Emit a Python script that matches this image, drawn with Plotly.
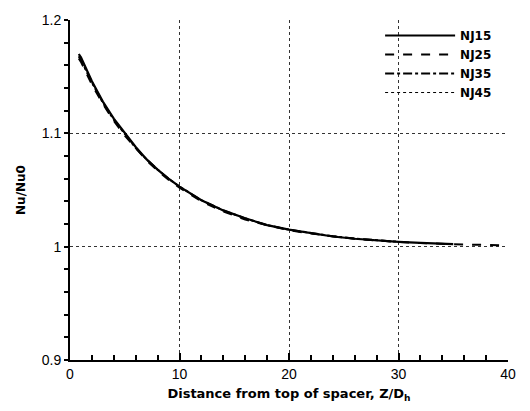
import plotly.graph_objects as go

# Distance from top of spacer, Z/Dh
z15 = [0.8, 1, 2, 3, 4, 5, 6, 7, 8, 9, 10, 12, 14, 16, 18, 20, 22, 24, 26, 28, 30, 32, 35]
nj15 = [1.170, 1.167, 1.146, 1.128, 1.113, 1.100, 1.088, 1.077, 1.068, 1.060, 1.053, 1.041, 1.032, 1.025, 1.019, 1.015, 1.012, 1.009, 1.007, 1.0055, 1.0043, 1.0033, 1.0022]

z25 = [0.8, 1, 2, 3, 4, 5, 6, 7, 8, 9, 10, 12, 14, 16, 18, 20, 22, 24, 26, 28, 30, 32, 35, 38, 40]
nj25 = [1.166, 1.163, 1.143, 1.126, 1.111, 1.098, 1.087, 1.076, 1.067, 1.059, 1.052, 1.040, 1.031, 1.024, 1.019, 1.0145, 1.0115, 1.009, 1.007, 1.0054, 1.0042, 1.0032, 1.0022, 1.0015, 1.0010]

z35 = [0.8, 1, 2, 3, 4, 5, 6, 7, 8, 9, 10, 12, 14, 16, 18, 20, 22, 24, 26, 28, 30]
nj35 = [1.168, 1.165, 1.145, 1.127, 1.112, 1.099, 1.087, 1.077, 1.068, 1.060, 1.053, 1.041, 1.032, 1.025, 1.019, 1.015, 1.0118, 1.0092, 1.0071, 1.0055, 1.0043]

z45 = [0.8, 1, 2, 3, 4, 5, 6, 7, 8, 9, 10, 12, 14, 16, 18, 20, 22, 24, 26]
nj45 = [1.167, 1.164, 1.144, 1.127, 1.112, 1.099, 1.088, 1.077, 1.068, 1.060, 1.053, 1.041, 1.032, 1.025, 1.019, 1.015, 1.0117, 1.009, 1.0071]

series = [
    ("NJ15", z15, nj15, "solid", 2.2),
    ("NJ25", z25, nj25, "dash", 2.0),
    ("NJ35", z35, nj35, "dashdot", 2.0),
    ("NJ45", z45, nj45, "dot", 1.0),
]

fig = go.Figure()
for name, x, y, dash, w in series:
    fig.add_trace(go.Scatter(x=x, y=y, mode="lines", name=name,
                             line=dict(color="black", width=w, dash=dash)))

fig.update_layout(
    width=530, height=411,
    margin=dict(l=70, r=22, t=15, b=47),
    paper_bgcolor="white", plot_bgcolor="white",
    font=dict(family="Liberation Sans, Arial, sans-serif", color="black", size=13),
    showlegend=True,
    legend=dict(x=0.708, y=0.997, xanchor="left", yanchor="top",
                bgcolor="rgba(0,0,0,0)", tracegroupgap=0, itemwidth=70,
                font=dict(size=12, family="DejaVu Sans, sans-serif", weight="bold")),
)

fig.update_xaxes(
    range=[0, 40], tickvals=[0, 10, 20, 30, 40], ticktext=["0", "10", "20", "30", "40"],
    showline=True, linecolor="black", linewidth=2,
    ticks="inside", ticklen=7, tickwidth=1.5, tickcolor="black",
    minor=dict(dtick=2, ticks="inside", ticklen=5, tickcolor="black", showgrid=False),
    showgrid=True, gridcolor="#333", griddash="dot", gridwidth=1,
    zeroline=False,
    title=dict(text="<b>Distance from top of spacer, Z/D<sub>h</sub></b>", standoff=8,
               font=dict(size=13, family="DejaVu Sans, sans-serif")),
    tickfont=dict(size=14),
)
fig.update_yaxes(
    range=[0.9, 1.2], tickvals=[0.9, 1.0, 1.1, 1.2], ticktext=["0.9", "1", "1.1", "1.2"],
    showline=True, linecolor="black", linewidth=2,
    ticks="outside", ticklen=4, tickwidth=1.5, tickcolor="black",
    minor=dict(dtick=0.02, tick0=0.9, ticks="outside", ticklen=4, tickcolor="black", showgrid=False),
    showgrid=True, gridcolor="#333", griddash="dot", gridwidth=1,
    zeroline=False,
    title=dict(text="<b>Nu/Nu0</b>", standoff=14, font=dict(size=12, family="DejaVu Sans, sans-serif")),
    tickfont=dict(size=14),
)

fig.write_html("out.html")
